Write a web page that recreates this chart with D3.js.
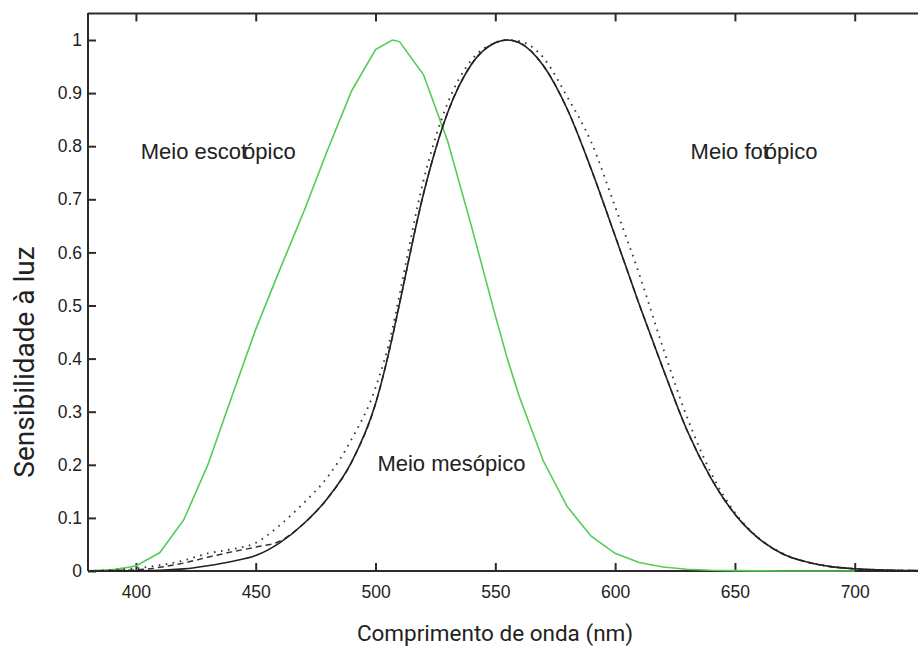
<!DOCTYPE html>
<html><head><meta charset="utf-8">
<script src="https://cdn.jsdelivr.net/npm/d3@7"></script>
<style>
html,body{margin:0;padding:0;background:#fff;}
svg{display:block;}
</style></head>
<body>
<svg id="chart" width="918" height="651"></svg>
<script>
// Wavelengths (nm)
const wavelengths = [380,390,400,410,420,430,440,450,460,470,480,490,500,507,510,520,530,540,550,555,560,570,580,590,600,610,620,630,640,650,660,670,680,690,700,710,720,730];
// Scotopic (green)
const scotopic   = [0.0006,0.0022,0.0093,0.0348,0.0966,0.1998,0.3281,0.455,0.567,0.676,0.793,0.904,0.982,1.0,0.997,0.935,0.811,0.65,0.481,0.40,0.3288,0.2076,0.1212,0.0655,0.0332,0.0159,0.0074,0.0033,0.0015,0.0007,0.0003,0.0001,0.0001,0,0,null,null,null];
// Photopic (solid black)
const photopic   = [0,0.0001,0.0004,0.0012,0.004,0.010,0.018,0.029,0.053,0.089,0.137,0.205,0.315,0.44,0.503,0.71,0.862,0.954,0.995,1.0,0.995,0.952,0.87,0.757,0.631,0.503,0.381,0.265,0.175,0.107,0.061,0.032,0.017,0.0082,0.0041,0.0021,0.001,0.0005];
// Mesopic (dashed)
const mesopic    = [0,0.001,0.002,0.007,0.015,0.026,0.036,0.045,0.056,0.089,0.137,0.205,0.315,0.44,0.503,0.71,0.862,0.954,0.995,1.0,0.995,0.952,0.87,0.757,0.631,0.503,0.381,0.265,0.175,0.107,0.061,0.032,0.017,0.0082,0.0041,0.0021,0.001,0.0005];
// Modified photopic (dotted)
const photopicMod= [0,0.002,0.005,0.011,0.020,0.033,0.041,0.053,0.086,0.128,0.177,0.248,0.345,0.455,0.52,0.735,0.88,0.962,0.995,1.0,0.998,0.967,0.893,0.808,0.686,0.56,0.42,0.29,0.185,0.11,0.062,0.033,0.017,0.0085,0.0042,0.002,0.001,0.0005];

const xTicks = [400,450,500,550,600,650,700];
const yTicks = [0,0.1,0.2,0.3,0.4,0.5,0.6,0.7,0.8,0.9,1];
const yTickLabels = ["0","0.1","0.2","0.3","0.4","0.5","0.6","0.7","0.8","0.9","1"];

const annotations = [
  {parts:["Meio escot","ópico"], lam:402, v:0.776},
  {parts:["Meio fot","ópico"], lam:631.5, v:0.776},
  {parts:["Meio mesópico"], lam:500.8, v:0.188}
];
const xTitle = "Comprimento de onda (nm)";
const yTitle = "Sensibilidade à luz";

const svg = d3.select("#chart");
const L = 88, T = 13, B = 571;
const x = d3.scaleLinear().domain([380, 730]).range([88, 88 + 350*2.396]);
const y = d3.scaleLinear().domain([0, 1.05]).range([B, B - 1.05*531]);

const axisColor = "#2b2b2b";

// frame lines
svg.append("line").attr("x1", L).attr("x2", L).attr("y1", T).attr("y2", B)
  .attr("stroke", axisColor).attr("stroke-width", 2);
svg.append("line").attr("x1", L).attr("x2", 930).attr("y1", y(1.05)).attr("y2", y(1.05))
  .attr("stroke", axisColor).attr("stroke-width", 2);
svg.append("line").attr("x1", L).attr("x2", 930).attr("y1", B).attr("y2", B)
  .attr("stroke", axisColor).attr("stroke-width", 2);

// axes with inward ticks
const fontTick = "'Liberation Sans', Arial, sans-serif";
const xAxisB = d3.axisBottom(x).tickValues(xTicks).tickSizeInner(-8).tickSizeOuter(0).tickPadding(15);
const gxb = svg.append("g").attr("transform", `translate(0,${B})`).call(xAxisB);
const xAxisT = d3.axisTop(x).tickValues(xTicks).tickSizeInner(-8).tickSizeOuter(0).tickFormat("");
const gxt = svg.append("g").attr("transform", `translate(0,${y(1.05)})`).call(xAxisT);
const yAxis = d3.axisLeft(y).tickValues(yTicks).tickSizeInner(-8).tickSizeOuter(0).tickPadding(6)
  .tickFormat((d,i) => yTickLabels[i]);
const gy = svg.append("g").attr("transform", `translate(${L},0)`).call(yAxis);
[gxb,gxt,gy].forEach(g => {
  g.select(".domain").remove();
  g.selectAll(".tick line").attr("stroke", axisColor).attr("stroke-width", 2);
  g.selectAll(".tick text").attr("fill", "#222").style("font-family", fontTick).style("font-size", "17.5px");
});

// curves
function mk(vals) {
  return wavelengths.map((w,i) => ({w, v: vals[i]})).filter(d => d.v !== null);
}
const lineLin = d3.line().x(d => x(d.w)).y(d => y(d.v));
const lineSmooth = d3.line().x(d => x(d.w)).y(d => y(d.v)).curve(d3.curveMonotoneX);

svg.append("path").datum(mk(scotopic)).attr("d", lineLin)
  .attr("fill", "none").attr("stroke", "#55cc55").attr("stroke-width", 1.6);
svg.append("path").datum(mk(photopicMod)).attr("d", lineSmooth)
  .attr("fill", "none").attr("stroke", "#333").attr("stroke-width", 1.8)
  .attr("stroke-dasharray", "1.6,5.5");
svg.append("path").datum(mk(mesopic)).attr("d", lineSmooth)
  .attr("fill", "none").attr("stroke", "#333").attr("stroke-width", 1.5)
  .attr("stroke-dasharray", "6,4");
svg.append("path").datum(mk(photopic)).attr("d", lineSmooth)
  .attr("fill", "none").attr("stroke", "#222").attr("stroke-width", 1.6);

// annotations
annotations.forEach(a => {
  const t = svg.append("text").attr("x", x(a.lam)).attr("y", y(a.v))
    .attr("fill", "#222").style("font-family", fontTick).style("font-size", "22px");
  a.parts.forEach((p, i) => {
    t.append("tspan").attr("dx", i > 0 ? -4 : 0).text(p);
  });
});

// axis titles
svg.append("text").attr("x", 495).attr("y", 641).attr("text-anchor", "middle")
  .attr("fill", "#222").style("font-family", "Roboto, sans-serif").style("font-size", "22.5px")
  .text(xTitle);
svg.append("text").attr("transform", "translate(34,362) rotate(-90)").attr("text-anchor", "middle")
  .attr("fill", "#222").style("font-family", "Roboto, sans-serif").style("font-size", "28px")
  .text(yTitle);
</script>
</body></html>
